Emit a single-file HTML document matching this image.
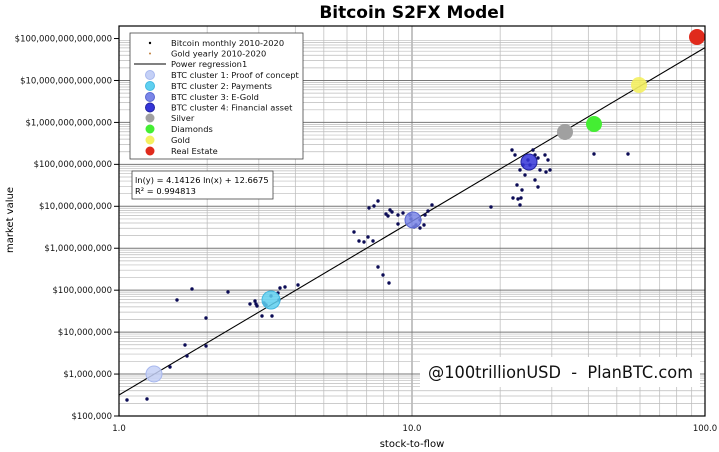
<!DOCTYPE html>
<html><head><meta charset="utf-8"><style>
html,body{margin:0;padding:0;background:#fff}
svg{display:block;font-family:"DejaVu Sans","Liberation Sans",sans-serif}
</style></head><body>
<svg id="s" width="719" height="452" viewBox="0 0 719 452" xmlns="http://www.w3.org/2000/svg">
<rect width="719" height="452" fill="#fff"/>
<g id="grid"></g>
<line x1="119" y1="395" x2="705" y2="47.6" stroke="#000" stroke-width="1.1"/>
<g id="dots" fill="#0b0b55"></g>
<g stroke-width="1">
<circle cx="154" cy="374" r="8" fill="#c4d0f6" fill-opacity="0.85" stroke="#a8b8ee"/>
<circle cx="271" cy="300" r="9" fill="#5fd0f0" fill-opacity="0.85" stroke="#45b8e0"/>
<circle cx="413" cy="220" r="8" fill="#7a86e8" fill-opacity="0.85" stroke="#5a66d0"/>
<circle cx="529" cy="162" r="8" fill="#3434d8" fill-opacity="0.85" stroke="#2222a0"/>
<circle cx="565" cy="132" r="8" fill="#a0a0a0"/>
<circle cx="594" cy="124" r="8" fill="#44ee33"/>
<circle cx="639" cy="85" r="8" fill="#f4f060" fill-opacity="0.9"/>
<circle cx="697" cy="37" r="8" fill="#e02a1c"/>
</g>
<rect x="119" y="26" width="586" height="390" fill="none" stroke="#000" stroke-width="1.2"/>
<rect x="130" y="33" width="173" height="126" fill="#fff" stroke="#444" stroke-width="0.8"/>
<g font-size="8.3" fill="#111">
<circle cx="150" cy="43" r="1.2" fill="#000"/><text x="171" y="46">Bitcoin monthly 2010-2020</text>
<circle cx="150" cy="53.5" r="1" fill="#c08040"/><text x="171" y="56.5">Gold yearly 2010-2020</text>
<line x1="134" y1="64" x2="166" y2="64" stroke="#000" stroke-width="1"/><text x="171" y="67">Power regression1</text>
<circle cx="150" cy="75" r="4.5" fill="#c4d0f6" stroke="#a8b8ee"/><text x="171" y="78">BTC cluster 1: Proof of concept</text>
<circle cx="150" cy="86" r="4.5" fill="#5fd0f0" stroke="#45b8e0"/><text x="171" y="89">BTC cluster 2: Payments</text>
<circle cx="150" cy="97" r="4.5" fill="#7a86e8" stroke="#5a66d0"/><text x="171" y="100">BTC cluster 3: E-Gold</text>
<circle cx="150" cy="107.5" r="4.5" fill="#3434d8" stroke="#2222a0"/><text x="171" y="110.5">BTC cluster 4: Financial asset</text>
<circle cx="150" cy="118" r="4.5" fill="#a0a0a0"/><text x="171" y="121">Silver</text>
<circle cx="150" cy="129" r="4.5" fill="#44ee33"/><text x="171" y="132">Diamonds</text>
<circle cx="150" cy="140" r="4.5" fill="#f4f060"/><text x="171" y="143">Gold</text>
<circle cx="150" cy="151" r="4.5" fill="#e02a1c"/><text x="171" y="154">Real Estate</text>
</g>
<rect x="132" y="171" width="141" height="28" fill="#fff" stroke="#444" stroke-width="0.8"/>
<text x="135" y="183" font-size="8.3">ln(y) = 4.14126 ln(x) + 12.6675</text>
<text x="135" y="194" font-size="8.3">R² = 0.994813</text>
<rect x="420" y="357" width="280" height="30" fill="#fff"/>
<text x="428" y="378" font-size="16.5" fill="#111" xml:space="preserve" textLength="265" lengthAdjust="spacingAndGlyphs">@100trillionUSD  -  PlanBTC.com</text>
<text x="412" y="18" font-size="17" font-weight="bold" text-anchor="middle">Bitcoin S2FX Model</text>
<g font-size="8.5" text-anchor="end" fill="#111">
<text x="112" y="41.5">$100,000,000,000,000</text>
<text x="112" y="83.5">$10,000,000,000,000</text>
<text x="112" y="125.5">$1,000,000,000,000</text>
<text x="112" y="167">$100,000,000,000</text>
<text x="112" y="209">$10,000,000,000</text>
<text x="112" y="251">$1,000,000,000</text>
<text x="112" y="293">$100,000,000</text>
<text x="112" y="335">$10,000,000</text>
<text x="112" y="377">$1,000,000</text>
<text x="112" y="419">$100,000</text>
</g>
<g font-size="8.5" text-anchor="middle" fill="#111">
<text x="119" y="431">1.0</text><text x="412" y="431">10.0</text><text x="705" y="431">100.0</text>
</g>
<text x="412" y="447" font-size="10" text-anchor="middle">stock-to-flow</text>
<text transform="translate(13,220) rotate(-90)" font-size="10" text-anchor="middle">market value</text>
</svg>
<script>
var ns="http://www.w3.org/2000/svg",g=document.getElementById("grid");
function L(x1,y1,x2,y2,c,w){var l=document.createElementNS(ns,"line");l.setAttribute("x1",x1);l.setAttribute("y1",y1);l.setAttribute("x2",x2);l.setAttribute("y2",y2);l.setAttribute("stroke",c);l.setAttribute("stroke-width",w);g.appendChild(l);}
for(var d=0;d<2;d++)for(var k=1;k<10;k++){var x=119+293*(d+Math.log10(k));L(x,26,x,416,k==1?"#888":"#c8c8c8",k==1?1:0.9);}
for(var d=-1;d<9;d++)for(var k=1;k<10;k++){var y=416-41.94*(d+Math.log10(k));if(y<26||y>416)continue;L(119,y,705,y,k==1?"#777":"#bbb",k==1?1:0.7);}
for(var d=0;d<10;d++){var y=416-41.94*d;L(114,y,119,y,"#000",1);}
var P=[[127,400],[147,399],[170,367],[187,356],[185,345],[206,346],[206,318],[177,300],[192,289],[228,292],[255,301],[257,306],[256,304],[262,316],[272,316],[264,303],[266,305],[271,296],[278,293],[280,288],[285,287],[279,300],[298,285],[250,304],
[354,232],[359,241],[364,242],[368,237],[373,241],[369,208],[374,206],[378,201],[386,214],[390,210],[388,216],[392,212],[378,267],[383,275],[389,283],[398,215],[403,213],[411,219],[416,225],[420,220],[425,215],[428,211],[432,205],[420,228],[424,225],[414,227],[410,215],[398,224],
[491,207],[512,150],[515,155],[513,198],[518,199],[520,205],[521,198],[522,190],[517,185],[525,175],[528,160],[530,165],[535,155],[538,158],[540,170],[535,180],[538,187],[546,172],[550,170],[548,160],[545,155],[533,150],[520,170],[523,165],[594,154],[628,154]];
var dg=document.getElementById("dots");
P.forEach(function(p){var c=document.createElementNS(ns,"circle");c.setAttribute("cx",p[0]);c.setAttribute("cy",p[1]);c.setAttribute("r",1.7);dg.appendChild(c);});
</script>
</body></html>
